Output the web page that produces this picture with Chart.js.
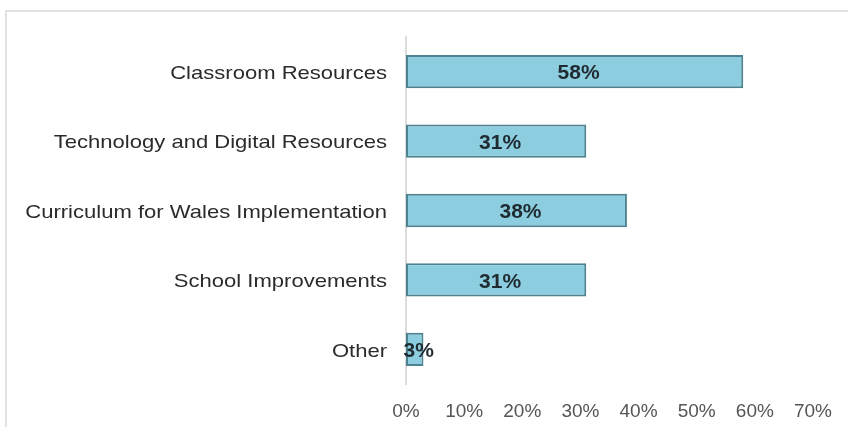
<!DOCTYPE html>
<html>
<head>
<meta charset="utf-8">
<script src="https://cdn.jsdelivr.net/npm/chart.js@4"></script>
<style>
  body { margin: 0; background: #fff; overflow: hidden; }
  .frame { position: absolute; left: 5px; top: 10px; width: 900px; height: 500px; border: 2px solid #e2e2e2; }
  .wrap { position: absolute; left: 0; top: 0; width: 848px; height: 427px; }
</style>
</head>
<body>
<div class="frame"></div>
<div class="wrap"><canvas id="chart" width="848" height="427"></canvas></div>
<script>
const CATEGORIES = ['Classroom Resources', 'Technology and Digital Resources', 'Curriculum for Wales Implementation', 'School Improvements', 'Other'];
const VALUES = [58, 31, 38, 31, 3];
const X_MAX = 70;
const X_STEP = 10;

// draws the value text in the middle of each bar
const barLabels = {
  id: 'barLabels',
  afterDatasetsDraw(chart) {
    const ctx = chart.ctx;
    const meta = chart.getDatasetMeta(0);
    ctx.save();
    ctx.font = 'bold 21px "Liberation Sans", Arial, sans-serif';
    ctx.fillStyle = '#1f2b30';
    ctx.textAlign = 'center';
    ctx.textBaseline = 'middle';
    meta.data.forEach((bar, i) => {
      ctx.fillText(VALUES[i] + '%', (bar.x + bar.base) / 2 + 4, bar.y + 2);
    });
    ctx.restore();
  }
};

const chart = new Chart(document.getElementById('chart'), {
  type: 'bar',
  data: {
    labels: CATEGORIES,
    datasets: [{
      data: VALUES,
      backgroundColor: '#8dcde0',
      borderColor: '#4d8391',
      borderWidth: 2,
      borderSkipped: false,
      categoryPercentage: 1,
      barPercentage: 0.48,
    }],
  },
  options: {
    indexAxis: 'y',
    responsive: false,
    animation: false,
    layout: { padding: { top: 37, right: 35, bottom: 0, left: 0 } },
    plugins: { legend: { display: false }, tooltip: { enabled: false } },
    scales: {
      x: {
        min: 0,
        max: X_MAX,
        grid: { display: false, drawTicks: false },
        border: { display: false },
        ticks: {
          stepSize: X_STEP,
          padding: 16,
          color: '#555',
          font: { family: '"Liberation Sans", Arial, sans-serif', size: 19 },
          callback: v => v + '%',
        },
        afterFit: s => { s.height = 43; },
      },
      y: {
        grid: { display: false, drawTicks: false },
        border: { display: true, color: '#dcdcdc', width: 2 },
        ticks: {
          padding: 19,
          color: '#2b2b2b',
          font: { family: '"Liberation Sans", Arial, sans-serif', size: 19 },
        },
        afterFit: s => { s.width = 406; },
      },
    },
  },
  plugins: [barLabels],
});

// category labels in the original look stretched sideways, so widen them around their right edge
const yScale = chart.scales.y;
const drawLabels = yScale.drawLabels;
yScale.drawLabels = function (area) {
  const edge = this.right - this.options.ticks.padding;
  this.ctx.save();
  this.ctx.translate(edge, 2);
  this.ctx.scale(1.16, 1);
  this.ctx.translate(-edge, 0);
  drawLabels.call(this, area);
  this.ctx.restore();
};
chart.draw();
</script>
</body>
</html>
